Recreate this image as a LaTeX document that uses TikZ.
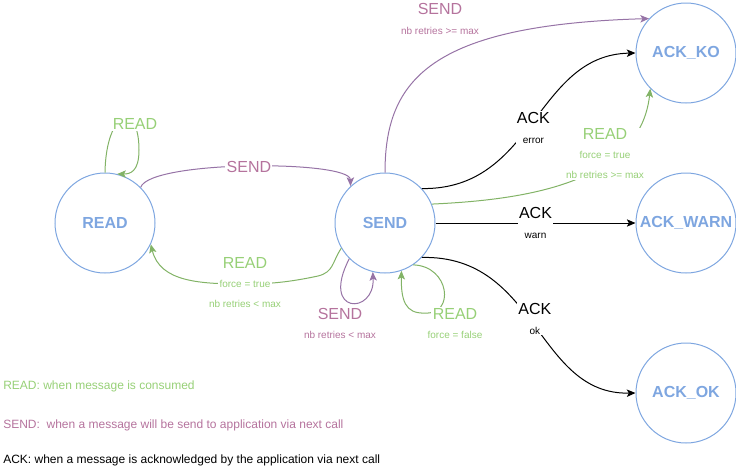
\documentclass[tikz,border=0pt]{standalone}
\usepackage{fontspec}
\setmainfont{Liberation Sans}
\usepackage{xcolor}
\usetikzlibrary{positioning,arrows.meta}

\definecolor{stateblue}{HTML}{7EA6E0}
\definecolor{readline}{HTML}{82B366}
\definecolor{readtext}{HTML}{97D077}
\definecolor{sendline}{HTML}{9673A6}
\definecolor{sendtext}{HTML}{B5739D}

\begin{document}
\begin{tikzpicture}[
	x=0.75pt, y=0.75pt,
	>={Stealth[length=6.5pt,width=5.5pt,inset=1.5pt]},
	on grid,
	state/.style={
		circle,
		draw=stateblue,
		line width=0.75pt,
		minimum size=75pt,
		inner sep=0pt,
		text=stateblue,
		font=\fontsize{12}{14}\selectfont\bfseries
	},
	readedge/.style={->, draw=readline, line width=0.75pt},
	sendedge/.style={->, draw=sendline, line width=0.75pt},
	ackedge/.style={->, draw=black, line width=0.75pt},
	big/.style={font=\fontsize{12}{14}\selectfont},
	small/.style={font=\fontsize{7.5}{9}\selectfont},
	lblock/.style={fill=white, align=center, inner sep=1pt, font=\fontsize{7.5}{9}\selectfont},
	legend/.style={anchor=west, inner sep=0pt, font=\fontsize{9}{11}\selectfont}
	]
	\useasboundingbox (0,0) rectangle (736,-469);
	
	\node[state] (read) at (105,-223) {READ};
	\node[state] (send) [right=210pt of read] {SEND};
	\node[state] (ackwarn) [right=225.75pt of send] {ACK\_WARN};
	\node[state] (ackko) [above=127.5pt of ackwarn] {ACK\_KO};
	\node[state] (ackok) [below=127.5pt of ackwarn] {ACK\_OK};
	
	% READ state
	\draw[readedge] (read.north) .. controls (106,-110) and (139,-100) .. (139,-150)
		.. controls (139,-172) and (130,-174) .. (read.76);
	\node[big, text=readtext, fill=white, inner sep=1pt] (readloop) at (135,-124) {READ};
	\draw[sendedge] (read.45) .. controls (150,-160) and (350,-160)
		.. node[big, text=sendtext, fill=white, inner sep=1pt] (readsend) {SEND} (send.133);
	
	% back from SEND
	\draw[readedge] (send.210) .. controls (332,-262) and (334,-272) .. (318,-276)
		.. controls (290,-282) and (270,-284) .. (245,-284)
		node[small, text=readtext, fill=white, inner sep=1pt] (forcetrue) {force = true}
		.. controls (200,-284) and (160,-282) .. (read.-25);
	\node[big, text=readtext] (readback) [above=15.75pt of forcetrue] {READ};
	\node[small, text=readtext] (retriesless) [below=15pt of forcetrue] {nb retries < max};
	
	\draw[sendedge] (send.225) .. controls (320,-315) and (375,-315) .. (send.256);
	\node[big, text=sendtext] (sendloop) at (340,-314) {SEND};
	\node[small, text=sendtext] (sendloopcond) [below=15.75pt of sendloop] {nb retries < max};
	
	\draw[readedge] (send.-56) .. controls (450,-266) and (455,-315) .. (425,-313)
		.. controls (405,-314) and (401,-300) .. (send.-71);
	\node[big, text=readtext, fill=white, inner sep=1pt] (readfalse) at (455,-314) {READ};
	\node[small, text=readtext] (forcefalse) [below=15.75pt of readfalse] {force = false};
	
	% to the ACK states
	\draw[sendedge] (send.north) .. controls (385,-80) and (430,-25) .. (ackko.137);
	\node[big, text=sendtext] (sendko) at (440,-9) {SEND};
	\node[small, text=sendtext] (sendkocond) [below=16.5pt of sendko] {nb retries >= max};
	
	\draw[ackedge] (send.43) .. controls (535,-190) and (535,-55)
		.. node[lblock, yshift=-4.5pt] (ackerror) {{\fontsize{12}{14}\selectfont ACK}\\[6pt]error} (ackko.west);
	
	\draw[readedge] (send.22) .. controls (520,-200) and (640,-185) .. (ackko.225);
	\node[lblock, text=readtext] (readko) at (605,-154)
		{{\fontsize{12}{14}\selectfont READ}\\[5.25pt]force = true\\[6pt]nb retries >= max};
	
	\draw[ackedge] (send) -- node[lblock] (ackwarnlbl) {{\fontsize{12}{14}\selectfont ACK}\\[6pt]warn} (ackwarn);
	
	\draw[ackedge] (send.-43) .. controls (538,-255) and (536,-395)
		.. node[lblock, yshift=4.9pt] (ackoklbl) {{\fontsize{12}{14}\selectfont ACK}\\[6pt]ok} (ackok.west);
	
	% legend
	\node[legend, text=readtext] (legread) at (3,-386) {READ: when message is consumed};
	\node[legend, text=sendtext] (legsend) at (3,-425) {SEND:~ when a message will be send to application via next call};
	\node[legend] (legack) at (3,-460) {ACK: when a message is acknowledged by the application via next call};
\end{tikzpicture}
\end{document}
